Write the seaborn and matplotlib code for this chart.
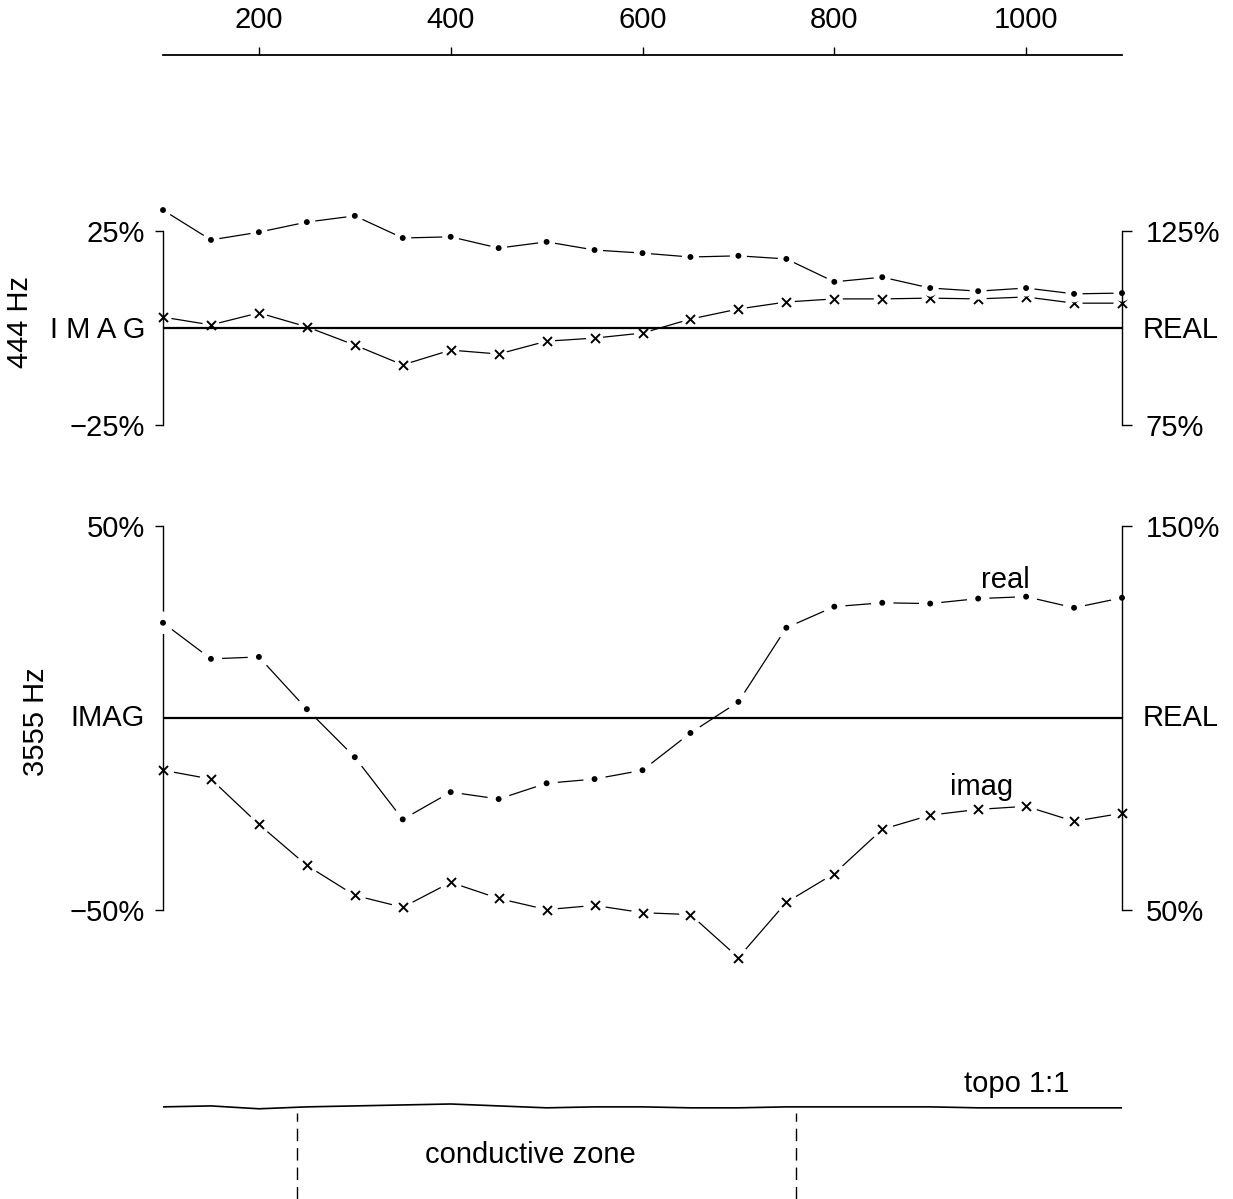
import matplotlib
matplotlib.use("Agg")
import matplotlib.pyplot as plt
import seaborn as sns

sns.set_theme(style="white")
plt.rcParams["font.family"] = ["Liberation Sans", "DejaVu Sans"]
plt.rcParams["text.color"] = "black"

# ---------------- data ----------------
station = [100, 150, 200, 250, 300, 350, 400, 450, 500, 550, 600,
           650, 700, 750, 800, 850, 900, 950, 1000, 1050, 1100]

# 444 Hz
real_444 = [130.4, 122.7, 124.7, 127.3, 128.9, 123.2, 123.5, 120.6, 122.2, 120.1, 119.3,
            118.3, 118.6, 117.8, 111.9, 113.1, 110.3, 109.5, 110.3, 108.8, 109.0]
imag_444 = [2.8, 0.8, 3.9, 0.3, -4.4, -9.5, -5.7, -6.7, -3.4, -2.6, -1.3,
            2.3, 4.9, 6.7, 7.5, 7.5, 7.7, 7.5, 8.0, 6.4, 6.4]

# 3555 Hz
real_3555 = [124.8, 115.4, 115.9, 102.3, 89.8, 73.6, 80.7, 78.9, 83.0, 84.1, 86.4,
             96.1, 104.2, 123.5, 129.0, 130.0, 129.8, 131.1, 131.6, 128.7, 131.3]
imag_3555 = [-13.6, -15.9, -27.7, -38.4, -46.2, -49.3, -42.8, -47.0, -49.9, -48.8, -50.7,
             -51.2, -62.4, -48.0, -40.5, -29.0, -25.3, -23.8, -23.0, -26.9, -24.8]

# topography (m, relative), 1:1 scale
topo = [0, 1, -2, 0, 1, 2, 3, 1, -1, 0, 0, -1, -1, 0, 0, 0, 0, -1, -1, -1, -1]
zone = [240, 760]

top_ticks = [200, 400, 600, 800, 1000]
top_tick_labels = ["200", "400", "600", "800", "1000"]

W, H = 1233, 1199
fig = plt.figure(figsize=(W / 100, H / 100), dpi=100)
fig.patch.set_facecolor("white")
FS = 21


def rect(x0, y0, x1, y1):
    return [x0 / W, 1 - y1 / H, (x1 - x0) / W, (y1 - y0) / H]


def ftext(x, y, s, **kw):
    fig.text(x / W, 1 - y / H, s, fontsize=kw.pop("fontsize", FS), color="black", **kw)


def series(ax, y, marker, msize, mlw, halo):
    sns.lineplot(x=station, y=y, ax=ax, color="black", linewidth=0.9,
                 clip_on=False, zorder=2)
    ax.scatter(station, y, s=halo, color="white", edgecolors="none",
               zorder=2.5, clip_on=False)
    if marker == "x":
        sns.scatterplot(x=station, y=y, ax=ax, marker="x", s=msize, color="black",
                        linewidth=mlw, zorder=3, clip_on=False)
    else:
        sns.scatterplot(x=station, y=y, ax=ax, marker="o", s=msize, color="black",
                        edgecolor="none", zorder=3, clip_on=False)


def panel(box, ylim_l, ylim_r, imag, real, lticks, llabels, rticks, rlabels, halo):
    ax = fig.add_axes(rect(*box))
    ax.set_facecolor("none")
    ax.set_xlim(100, 1100)
    ax.set_ylim(*ylim_l)
    ax2 = ax.twinx()
    ax2.set_ylim(*ylim_r)
    for a in (ax, ax2):
        for s in a.spines.values():
            s.set_visible(False)
        a.set_xticks([])
        a.set_xlabel("")
        a.set_ylabel("")
    ax.spines["left"].set_visible(True)
    ax.spines["left"].set_linewidth(1.0)
    ax.spines["left"].set_color("black")
    ax2.spines["right"].set_visible(True)
    ax2.spines["right"].set_linewidth(1.0)
    ax2.spines["right"].set_color("black")

    series(ax, imag, "x", 42, 1.4, halo)
    series(ax2, real, "o", 18, 0, halo)
    ax2.axhline(sum(ylim_r) / 2, color="black", linewidth=1.6, zorder=2.7)

    ax.set_yticks(lticks)
    ax.set_yticklabels(llabels)
    ax.tick_params(axis="y", left=True, direction="out", length=6, width=1.0,
                   labelsize=FS, pad=7, colors="black")
    ax2.set_yticks(rticks)
    ax2.set_yticklabels(rlabels)
    ax2.tick_params(axis="y", right=True, direction="out", length=7, width=1.0,
                    labelsize=FS, pad=10, colors="black")
    return ax, ax2


# top scale
axs = fig.add_axes(rect(163, 55, 1122, 56))
axs.set_xlim(100, 1100)
axs.set_yticks([])
for k in ("left", "right", "bottom"):
    axs.spines[k].set_visible(False)
axs.spines["top"].set_linewidth(1.3)
axs.spines["top"].set_color("black")
axs.set_xticks(top_ticks)
axs.set_xticklabels(top_tick_labels)
axs.xaxis.set_ticks_position("top")
axs.tick_params(axis="x", top=True, bottom=False, labeltop=True, labelbottom=False,
                direction="out", length=6, width=1.0, labelsize=FS, pad=9, colors="black")

# 444 Hz panel
panel((163, 231, 1122, 425), (-25, 25), (75, 125), imag_444, real_444,
      [-25, 25], ["\u221225%", "25%"], [75, 125], ["75%", "125%"], 150)
ftext(145, 330, "I M A G", ha="right", va="center")
ftext(1143, 330, "REAL", ha="left", va="center")
ftext(20, 322, "444 Hz", rotation=90, ha="center", va="center")

# 3555 Hz panel
axb, axb2 = panel((163, 526, 1122, 910), (-50, 50), (50, 150), imag_3555, real_3555,
                  [-50, 50], ["\u221250%", "50%"], [50, 150], ["50%", "150%"], 260)
ftext(145, 718, "IMAG", ha="right", va="center")
ftext(1143, 718, "REAL", ha="left", va="center")
ftext(36, 722, "3555 Hz", rotation=90, ha="center", va="center")
axb2.text(978, 136, "real", fontsize=FS, ha="center", va="center", color="black")
axb.text(954, -18, "imag", fontsize=FS, ha="center", va="center", color="black")

# topography
axt = fig.add_axes(rect(163, 1080, 1122, 1199))
axt.set_facecolor("none")
axt.set_xlim(100, 1100)
axt.set_ylim(-96, 28)
axt.axis("off")
sns.lineplot(x=station, y=topo, ax=axt, color="black", linewidth=1.2)
axt.vlines(zone, -96, -6, colors="black", linewidth=1.0, linestyles=(0, (9, 5)))
axt.text(483, -50, "conductive zone", fontsize=FS, ha="center", va="center", color="black")
axt.text(990, 24, "topo 1:1", fontsize=FS, ha="center", va="center", color="black")

fig.savefig("out.png", dpi=100, facecolor="white")
